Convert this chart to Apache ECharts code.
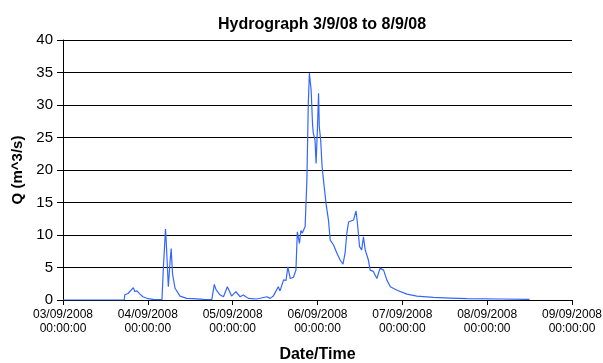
<!DOCTYPE html>
<html>
<head>
<meta charset="utf-8">
<script src="https://cdn.jsdelivr.net/npm/echarts@6/dist/echarts.min.js"></script>
<style>
  html, body { margin: 0; padding: 0; background: #fff; }
  #chart { width: 603px; height: 363px; }
</style>
</head>
<body>
<div id="chart"></div>
<script>
// hours after 03/09/2008 00:00:00
var hours = [0, 17.3, 17.5, 18.4, 19.9, 20.3, 20.9, 21.8, 22.6, 24.1, 25.5, 26.9, 28.0,
  28.4, 29.0, 29.2, 29.8, 30.3, 30.6, 31.0, 31.7, 33.1, 35.0, 36.9, 39.7, 42.1,
  42.8, 43.3, 44.4, 45.4, 46.5, 47.7, 48.9, 50.1, 51.0, 52.4, 54.8, 57.7, 58.6, 59.5,
  60.9, 61.4, 62.4, 63.1, 63.6, 64.3, 65.2, 65.9, 66.3, 66.9, 67.3, 67.7, 68.5,
  69.0, 69.1, 69.4, 69.7, 70.2, 70.6, 70.8, 71.3, 71.6, 72.0, 72.3, 72.5, 72.9,
  73.3, 73.9, 74.4, 75.1, 75.6, 76.5, 77.5, 78.4, 79.2, 79.8, 80.3, 80.8, 82.2,
  82.9, 83.3, 83.9, 84.5, 85.0, 85.5, 86.0, 86.4, 86.9, 87.8, 88.8, 89.7, 90.7,
  91.6, 92.6, 94.5, 97.3, 100.1, 104.8, 109.5, 114.3, 123.7, 131.2, 132.0];
var flow = [0, 0, 0.8, 1.0, 1.9, 1.3, 1.4, 0.9, 0.5, 0.2, 0.1, 0.05, 0.05,
  5.0, 10.9, 9.0, 2.05, 6.0, 7.9, 4.0, 1.8, 0.6, 0.25, 0.2, 0.1, 0.05,
  2.4, 1.6, 0.8, 0.5, 2.05, 0.6, 1.3, 0.5, 0.77, 0.25, 0.15, 0.5, 0.25, 0.6,
  2.05, 1.4, 3.1, 3.0, 5.1, 3.3, 3.5, 4.6, 10.5, 8.7, 10.7, 10.3, 11.3,
  18.5, 21.5, 30.3, 34.9, 32.3, 27.0, 25.7, 24.6, 21.0, 26.7, 31.8, 26.7, 24.6,
  20.5, 17.4, 14.9, 12.3, 9.2, 8.5, 7.2, 6.15, 5.5, 7.2, 10.3, 12.0, 12.3,
  13.7, 11.8, 8.2, 7.7, 9.7, 7.7, 7.9, 6.15, 4.6, 4.4, 3.3, 4.9, 4.6,
  3.1, 2.05, 1.5, 0.9, 0.6, 0.4, 0.3, 0.2, 0.15, 0.1, 0.1];
var tickLabels = ['03/09/2008', '04/09/2008', '05/09/2008', '06/09/2008',
  '07/09/2008', '08/09/2008', '09/09/2008'];

var chart = echarts.init(document.getElementById('chart'));
var pts = hours.map(function (h, i) { return [h, flow[i]]; });
var font = 'Liberation Sans';

var option = {
  animation: false,
  title: {
    text: 'Hydrograph 3/9/08 to 8/9/08',
    left: 317, top: 12, textAlign: 'center',
    textStyle: { fontFamily: font, fontSize: 16, fontWeight: 'bold', color: '#000' }
  },
  grid: { left: 63, right: 31, top: 40, bottom: 63, outerBoundsMode: 'none', containLabel: false },
  xAxis: {
    type: 'value', min: 0, max: 144, interval: 24,
    name: 'Date/Time', nameLocation: 'middle', nameGap: 47,
    nameTextStyle: { fontFamily: font, fontSize: 16, fontWeight: 'bold', color: '#000' },
    axisLine: { onZero: false, lineStyle: { color: '#000', width: 1 } },
    axisTick: { show: true, length: 5, lineStyle: { color: '#000' } },
    splitLine: { show: false },
    axisLabel: {
      fontFamily: font, fontSize: 12, color: '#000', margin: 8, lineHeight: 14,
      formatter: function (v) { return tickLabels[Math.round(v / 24)] + '\n00:00:00'; }
    }
  },
  yAxis: {
    type: 'value', min: 0, max: 40, interval: 5,
    name: 'Q (m^3/s)', nameLocation: 'middle', nameGap: 38, nameRotate: 90,
    nameTextStyle: { fontFamily: font, fontSize: 15, fontWeight: 'bold', color: '#000' },
    axisLine: { show: true, lineStyle: { color: '#000', width: 1 } },
    axisTick: { show: true, length: 6, lineStyle: { color: '#000' } },
    splitLine: { show: true, lineStyle: { color: '#000', width: 1 } },
    axisLabel: { fontFamily: font, fontSize: 15, color: '#000', margin: 10 }
  },
  series: [{
    type: 'line', data: pts, symbol: 'none',
    lineStyle: { color: '#3366ff', width: 1.2 }
  }]
};
chart.setOption(option);
</script>
</body>
</html>
